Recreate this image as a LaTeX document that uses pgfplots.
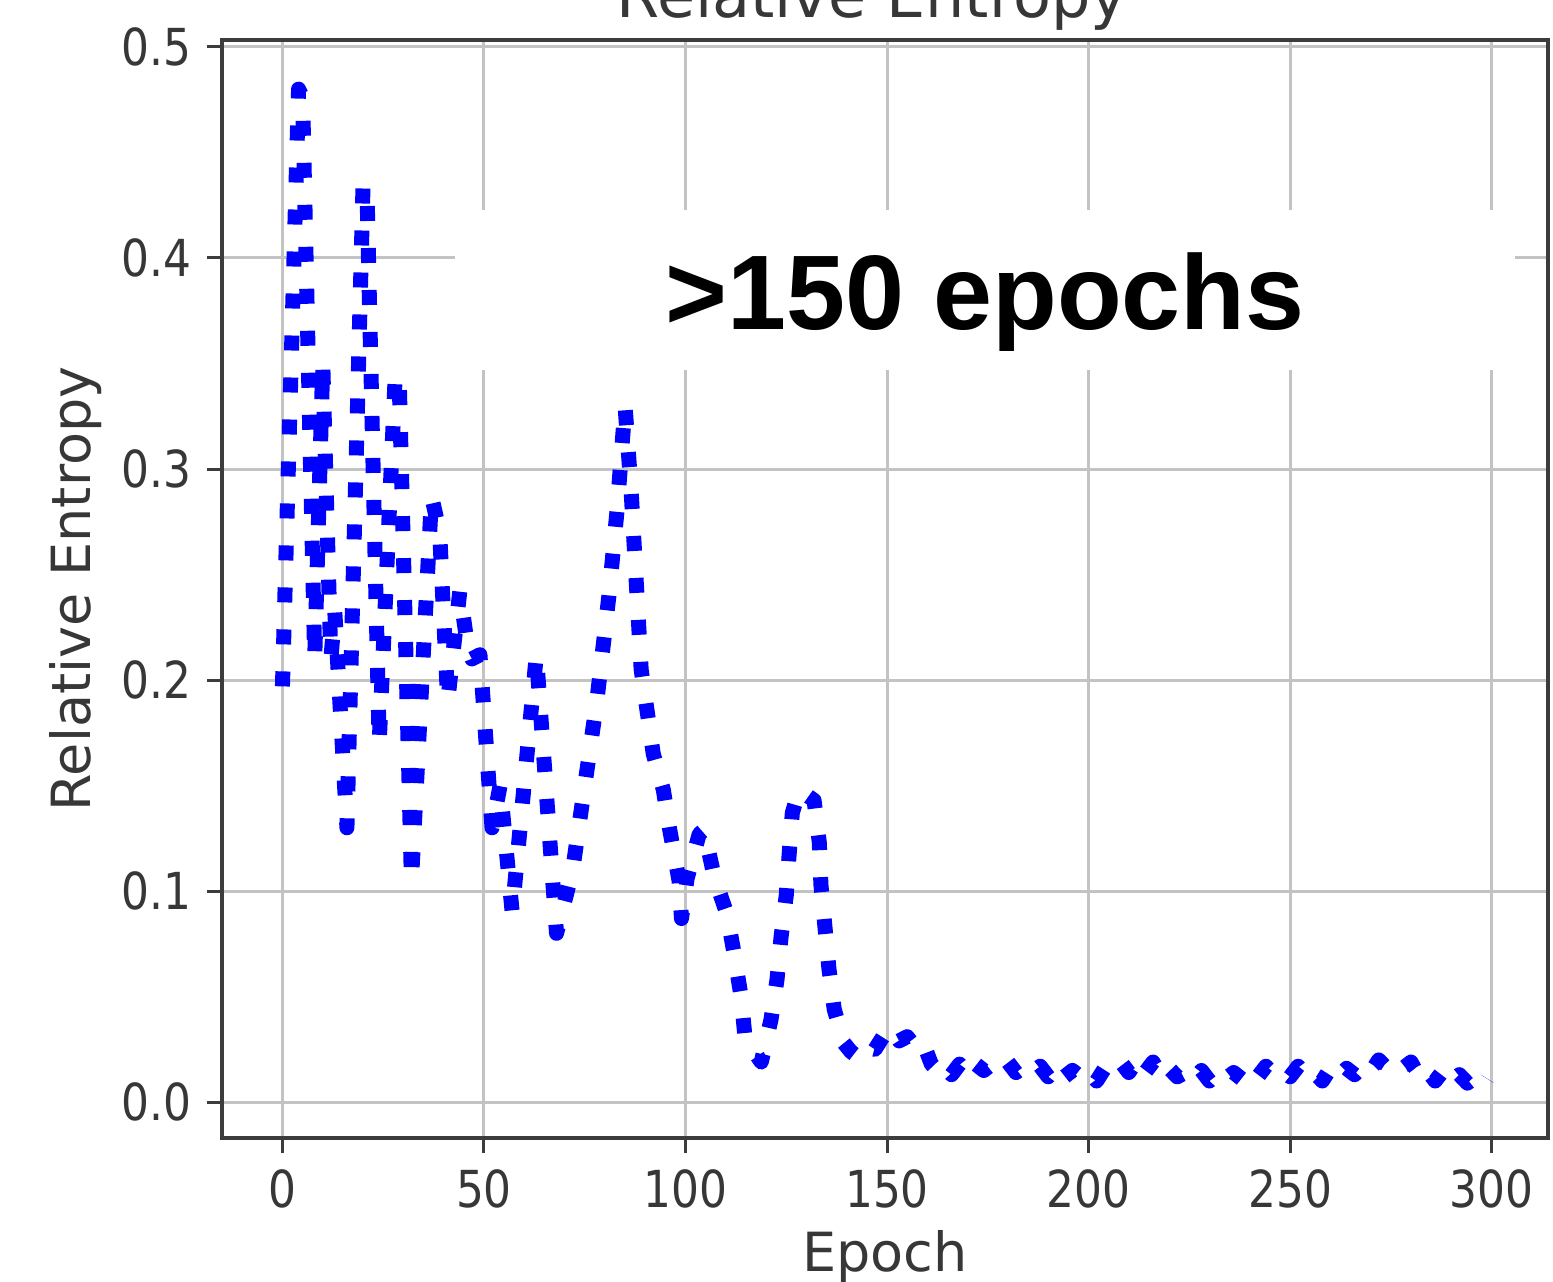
\documentclass[border=0pt]{standalone}
\usepackage{fontspec}
\setmainfont{DejaVu Sans}
\newfontfamily\tickfont{DejaVu Sans}[FakeStretch=0.86]
\newfontfamily\boldfont{Liberation Sans}
\usepackage{pgfplots}
\pgfplotsset{compat=1.18}
\definecolor{framec}{RGB}{60,60,60}
\definecolor{gridc}{RGB}{195,195,195}
\definecolor{textc}{RGB}{55,55,55}
\begin{document}
\begin{tikzpicture}
\begin{axis}[
  at={(0,0)}, anchor=south west,
  scale only axis, width=265.2pt, height=219.6pt,
  xmin=-15, xmax=314, ymin=-0.017, ymax=0.5033,
  xtick={0,50,100,150,200,250,300},
  ytick={0,0.1,0.2,0.3,0.4,0.5},
  grid=major, major grid style={gridc, line width=0.6pt},
  axis line style={framec, line width=0.7pt},
  tick align=outside, tick pos=left, major tick length=3pt,
  tick style={framec, line width=0.6pt},
  /pgf/number format/assume math mode=true,
  ticklabel style={font=\tickfont\fontsize{10.2}{12}\selectfont, text=textc, inner sep=0pt},
  xticklabel style={anchor=north, yshift=-3.2pt},
  yticklabel style={anchor=east, xshift=-3pt, /pgf/number format/fixed, /pgf/number format/fixed zerofill, /pgf/number format/precision=1},
  xlabel={Epoch}, ylabel={Relative Entropy},
  label style={font=\fontsize{10.8}{13}\selectfont, text=textc},
  xlabel style={at={(axis description cs:0.5,-0.122)}, anchor=base},
  ylabel style={at={(axis description cs:-0.0995,0.5)}, anchor=base},
]
\addplot[blue, line width=3pt, dash pattern=on 3pt off 5.4pt, line cap=butt, line join=round] coordinates {
(0,0.197) (4,0.48) (5,0.476) (8,0.21) (10,0.35) (12,0.21) (13,0.232) (16,0.13)
(20,0.435) (21,0.43) (24,0.17) (28,0.345) (29,0.34) (32,0.105) (37,0.287) (39,0.27)
(41,0.19) (44,0.242) (46,0.215) (47,0.21) (49,0.212) (52,0.13) (54,0.15) (57,0.09)
(63,0.212) (68,0.08) (72,0.11) (75,0.15) (78,0.19) (81,0.24) (83,0.28) (85,0.33)
(86.5,0.29) (89,0.205) (90.5,0.185) (92,0.165) (94.5,0.148) (96,0.13) (98.4,0.105) (99,0.087)
(100.4,0.106) (103.4,0.127) (104.6,0.129) (107.1,0.107) (110.3,0.089) (112.1,0.07) (113.8,0.05) (114.8,0.03)
(118.8,0.019) (121.2,0.039) (122.7,0.058) (123.7,0.078) (125,0.098) (125.7,0.117) (126.5,0.137) (128.2,0.148)
(131.9,0.143) (133.2,0.123) (133.6,0.103) (134.6,0.083) (135.6,0.063) (136.9,0.044) (139.3,0.028) (141,0.024)
(143,0.021) (145,0.026) (147,0.025) (149,0.031) (151,0.035) (153,0.029) (155,0.031) (157,0.026)
(159,0.028) (161,0.018) (163,0.014)
(164,0.017) (166,0.013) (168,0.018) (170,0.013) (172,0.018) (174,0.015) (176,0.018) (178,0.015)
(180,0.019) (182,0.014) (184,0.017) (186,0.014) (188,0.017) (190,0.012) (192,0.017) (194,0.012)
(196,0.015) (198,0.012) (200,0.015) (202,0.010) (204,0.016) (206,0.014) (208,0.019) (210,0.014)
(212,0.020) (214,0.014) (216,0.019) (218,0.012) (220,0.016) (222,0.012) (224,0.014) (226,0.010)
(228,0.015) (230,0.010) (232,0.014) (234,0.011) (236,0.014) (238,0.011) (240,0.016) (242,0.012)
(244,0.017) (246,0.013) (248,0.015) (250,0.012) (252,0.017) (254,0.012) (256,0.014) (258,0.010)
(260,0.016) (262,0.012) (264,0.016) (266,0.013) (268,0.017) (270,0.014) (272,0.020) (274,0.016)
(276,0.019) (278,0.016) (280,0.019) (282,0.012) (284,0.015) (286,0.010) (288,0.015) (290,0.010)
(292,0.013) (294,0.009) (296,0.012) (298,0.008) (299,0.011)
};
\end{axis}
\node[font=\fontsize{12.4}{14}\selectfont, text=textc, anchor=base] at (130pt,224pt) {Relative Entropy};
\fill[white] (46.6pt,153.6pt) rectangle (258.6pt,185.6pt);
\node[font=\boldfont\bfseries\fontsize{21.2}{24}\selectfont, anchor=base, inner sep=0pt] at (152.6pt,161.6pt) {>150 epochs};
\pgfresetboundingbox
\path[use as bounding box] (-44.4pt,-28.8pt) rectangle (266.2pt,227.6pt);
\end{tikzpicture}
\end{document}
